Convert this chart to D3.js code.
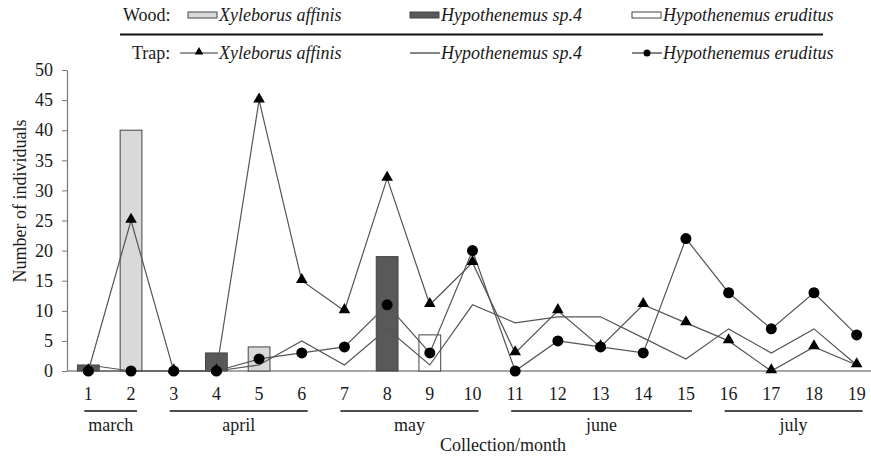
<!DOCTYPE html>
<html>
<head>
<meta charset="utf-8">
<script src="https://cdn.jsdelivr.net/npm/d3@7"></script>
<style>
  body { margin: 0; background: #fff; }
  svg { display: block; font-family: "Liberation Serif", "Times New Roman", serif; }
</style>
</head>
<body>
<div id="chart"></div>
<script>
// collection numbers 1..19
const collections = d3.range(1, 20);

// wood (bars)
const woodXyleborus = [0, 40, 0, 0, 4, 0, 0, 0, 0, 0, 0, 0, 0, 0, 0, 0, 0, 0, 0];
const woodHypoSp4 = [1, 0, 0, 3, 0, 0, 0, 19, 0, 0, 0, 0, 0, 0, 0, 0, 0, 0, 0];
const woodEruditus = [0, 0, 0, 0, 0, 0, 0, 0, 6, 0, 0, 0, 0, 0, 0, 0, 0, 0, 0];

// trap (lines)
const trapXyleborus = [0, 25, 0, 0, 45, 15, 10, 32, 11, 18, 3, 10, 4, 11, 8, 5, 0, 4, 1];
const trapHypoSp4 = [1, 0, 0, 0, 1, 5, 1, 7, 1, 11, 8, 9, 9, 5.5, 2, 7, 3, 7, 1];
const trapEruditus = [0, 0, 0, 0, 2, 3, 4, 11, 3, 20, 0, 5, 4, 3, 22, 13, 7, 13, 6];

const yTicks = d3.range(0, 51, 5);

const monthNames = ["march", "april", "may", "june", "july"];
const monthFirst = [1, 3, 7, 11, 16];
const monthLast = [2, 6, 10, 15, 19];

const width = 871, height = 463;
const textColor = "#1a1a1a";

const svg = d3.select("#chart").append("svg")
  .attr("width", width)
  .attr("height", height);

const x = d3.scalePoint()
  .domain(collections)
  .range([67, 878])
  .padding(0.5);

const y = d3.scaleLinear()
  .domain([0, 50])
  .range([371, 70]);

const barW = x.step() * 0.51;

// y axis
const yAxis = svg.append("g")
  .attr("transform", `translate(67,0)`)
  .call(d3.axisLeft(y).tickValues(yTicks).tickSize(5).tickPadding(9).tickSizeOuter(0))
  .attr("font-family", null)
  .attr("font-size", 18);
yAxis.select(".domain").attr("stroke", "#777").attr("stroke-width", 1.2);
yAxis.selectAll(".tick line").attr("stroke", "#777");
yAxis.selectAll(".tick text").attr("fill", textColor);

// x axis baseline
svg.append("line")
  .attr("x1", 67).attr("x2", width)
  .attr("y1", y(0)).attr("y2", y(0))
  .attr("stroke", "#888").attr("stroke-width", 1.6);

// x labels
svg.append("g").selectAll("text")
  .data(collections)
  .join("text")
  .attr("x", d => x(d))
  .attr("y", 400)
  .attr("text-anchor", "middle")
  .attr("fill", textColor)
  .style("font-size", "18px")
  .text(d => d);

// bars
const woodSeries = [
  { values: woodXyleborus, fill: "#d9d9d9" },
  { values: woodHypoSp4, fill: "#595959" },
  { values: woodEruditus, fill: "#ffffff" }
];
woodSeries.forEach(s => {
  svg.append("g").selectAll("rect")
    .data(collections.filter((c, i) => s.values[i] > 0))
    .join("rect")
    .attr("x", c => x(c) - barW / 2)
    .attr("width", barW)
    .attr("y", c => y(s.values[c - 1]))
    .attr("height", c => y(0) - y(s.values[c - 1]))
    .attr("fill", s.fill)
    .attr("stroke", "#444")
    .attr("stroke-width", 1);
});

// trap lines
const line = d3.line()
  .x((d, i) => x(collections[i]))
  .y(d => y(d));

const trapSeries = [
  { values: trapHypoSp4, marker: null },
  { values: trapEruditus, marker: "circle" },
  { values: trapXyleborus, marker: "triangle" }
];
trapSeries.forEach(s => {
  svg.append("path")
    .datum(s.values)
    .attr("d", line)
    .attr("fill", "none")
    .attr("stroke", "#555")
    .attr("stroke-width", 1.2);
});

const tri = d3.symbol().type(d3.symbolTriangle).size(58);
trapSeries.forEach(s => {
  if (s.marker === "circle") {
    svg.append("g").selectAll("circle")
      .data(s.values)
      .join("circle")
      .attr("cx", (d, i) => x(collections[i]))
      .attr("cy", d => y(d))
      .attr("r", 5.5)
      .attr("fill", "#000");
  } else if (s.marker === "triangle") {
    svg.append("g").selectAll("path")
      .data(s.values)
      .join("path")
      .attr("d", tri)
      .attr("transform", (d, i) => `translate(${x(collections[i])},${y(d) - 1})`)
      .attr("fill", "#000");
  }
});

// months under x axis
const months = svg.append("g");
monthNames.forEach((m, i) => {
  const x0 = x(monthFirst[i]) - 4;
  const x1 = x(monthLast[i]) + 6;
  months.append("line")
    .attr("x1", x0).attr("x2", x1)
    .attr("y1", 411).attr("y2", 411)
    .attr("stroke", "#111").attr("stroke-width", 1.6);
  months.append("text")
    .attr("x", (x0 + x1) / 2)
    .attr("y", 431)
    .attr("text-anchor", "middle")
    .attr("fill", textColor)
    .style("font-size", "18px")
    .text(m);
});

// axis titles
svg.append("text")
  .attr("x", 503).attr("y", 451)
  .attr("text-anchor", "middle")
  .attr("fill", textColor)
  .style("font-size", "18px")
  .text("Collection/month");

svg.append("text")
  .attr("transform", "translate(26,201) rotate(-90)")
  .attr("text-anchor", "middle")
  .attr("fill", textColor)
  .style("font-size", "18px")
  .text("Number of individuals");

// legend
const legend = svg.append("g").style("font-size", "18px").attr("fill", textColor);
const legendNames = ["Xyleborus affinis", "Hypothenemus sp.4", "Hypothenemus eruditus"];
const legendX = [188, 410, 632];

legend.append("text").attr("x", 123).attr("y", 21).text("Wood:");
legend.append("text").attr("x", 132).attr("y", 59).text("Trap:");
legend.append("line")
  .attr("x1", 120).attr("x2", 823)
  .attr("y1", 34.5).attr("y2", 34.5)
  .attr("stroke", "#111").attr("stroke-width", 2);

const triSmall = d3.symbol().type(d3.symbolTriangle).size(32);
legendNames.forEach((name, i) => {
  const lx = legendX[i];
  legend.append("rect")
    .attr("x", lx).attr("y", 12)
    .attr("width", 29).attr("height", 6)
    .attr("fill", woodSeries[i].fill)
    .attr("stroke", "#444");
  legend.append("text")
    .attr("x", lx + 31).attr("y", 21)
    .style("font-style", "italic")
    .text(name);

  legend.append("line")
    .attr("x1", i === 0 ? lx - 8 : lx).attr("x2", lx + 30)
    .attr("y1", 53).attr("y2", 53)
    .attr("stroke", "#333").attr("stroke-width", 1.2);
  if (i === 0) {
    legend.append("path").attr("d", triSmall).attr("transform", `translate(${lx + 11},52)`).attr("fill", "#000");
  } else if (i === 2) {
    legend.append("circle").attr("cx", lx + 15).attr("cy", 53).attr("r", 3.5).attr("fill", "#000");
  }
  legend.append("text")
    .attr("x", lx + 31).attr("y", 59)
    .style("font-style", "italic")
    .text(name);
});
</script>
</body>
</html>
